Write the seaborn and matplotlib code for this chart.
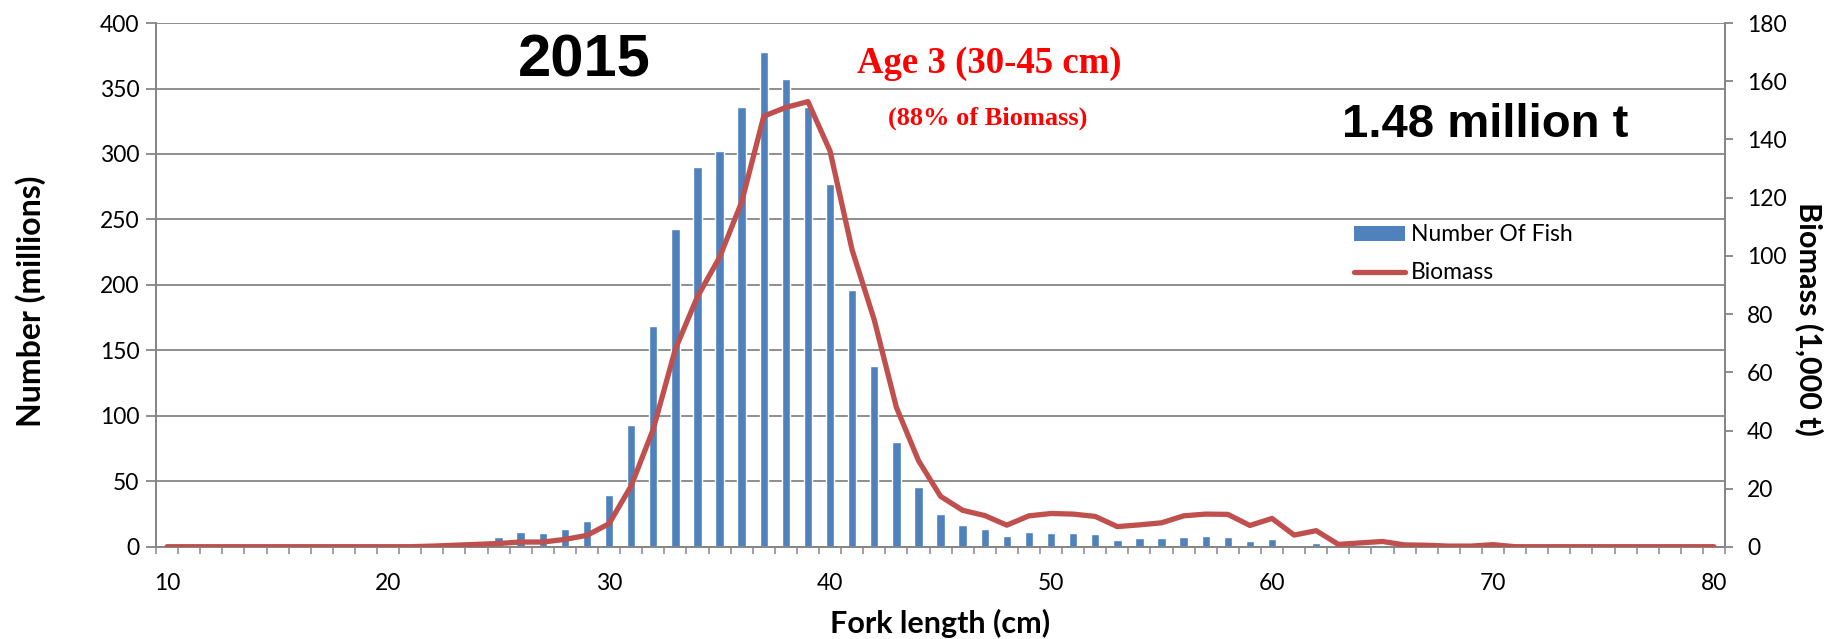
import matplotlib

matplotlib.use("Agg")
import matplotlib.pyplot as plt
import numpy as np
import pandas as pd
import seaborn as sns
from matplotlib.lines import Line2D
from matplotlib.patches import Patch
from matplotlib.ticker import MultipleLocator

# Fork length classes (cm)
fork_length = list(range(10, 81))

# Number of fish (millions) per 1 cm class
number_of_fish = (
    [0] * 13
    + [0.5, 3.5, 8, 11.5, 11, 13.5, 20, 39.5]
    + [93, 169, 243, 290, 302.5, 336, 378, 357, 336, 277]
    + [196, 138, 80, 46, 25, 17, 13.5, 8.5, 11.2, 11]
    + [10.7, 9.6, 5.5, 6.5, 6.5, 7.8, 8.3, 7.8, 4.5, 5.8]
    + [1.5, 2.8]
    + [0] * 18
)

# Biomass (1,000 t) per 1 cm class
biomass = (
    [0.1] * 12
    + [0.3, 0.6, 0.9, 1.2, 1.7, 1.7, 2.6, 4.0]
    + [8, 21, 40.5, 68, 86, 99.5, 118.5, 148, 151, 153]
    + [136, 102, 78, 48, 29.7, 17.4, 12.6, 10.8, 7.5, 10.7]
    + [11.5, 11.3, 10.5, 7.0, 7.6, 8.3, 10.7, 11.3, 11.2, 7.4]
    + [9.8, 4.1, 5.6, 0.9, 1.4, 1.9, 0.7, 0.6, 0.3, 0.3]
    + [0.8]
    + [0.1] * 10
)

bar_color = "#4F81BD"
line_color = "#C0504D"
axis_gray = "#868686"

sns.set_theme(style="white")
plt.rcParams["font.family"] = ["Lato", "DejaVu Sans"]
plt.rcParams["text.color"] = "black"
plt.rcParams["axes.labelcolor"] = "black"
plt.rcParams["xtick.color"] = "black"
plt.rcParams["ytick.color"] = "black"

dataframe = pd.DataFrame(
    {"length": fork_length, "number": number_of_fish, "biomass": biomass}
)

figure = plt.figure(figsize=(18.32, 6.39), dpi=100)
axis = figure.add_axes([0.0852, 0.144, 0.8564, 0.820])

sns.barplot(
    data=dataframe,
    x="length",
    y="number",
    native_scale=True,
    width=0.38,
    color=bar_color,
    saturation=1,
    ax=axis,
    zorder=2,
)
axis.set_xlim(9.5, 80.5)
axis.set_ylim(0, 400)
axis.yaxis.set_major_locator(MultipleLocator(50))
axis.set_xticks(range(10, 81, 10))
axis.set_xticks(np.arange(9.5, 81, 1), minor=True)
axis.grid(axis="y", color=axis_gray, linewidth=1.3, zorder=0)
axis.set_axisbelow(True)

axis_right = axis.twinx()
sns.lineplot(
    data=dataframe,
    x="length",
    y="biomass",
    color=line_color,
    linewidth=3.8,
    ax=axis_right,
    zorder=3,
)
axis_right.set_ylim(0, 180)
axis_right.yaxis.set_major_locator(MultipleLocator(20))
axis_right.set_xlim(9.5, 80.5)

for current_axis in (axis, axis_right):
    for side, spine in current_axis.spines.items():
        spine.set_color(axis_gray)
        spine.set_linewidth(1.3)
    current_axis.spines["top"].set_visible(False)

axis.tick_params(
    axis="y", which="major", direction="out", length=7, width=1.3,
    color=axis_gray, labelcolor="black", pad=5, labelsize=16.5, left=True,
)
axis.tick_params(axis="x", which="major", length=0, pad=19, labelsize=16.5,
                 labelcolor="black")
axis.tick_params(
    axis="x", which="minor", direction="out", length=5, width=1.1,
    color=axis_gray, bottom=True,
)
axis_right.tick_params(
    axis="y", direction="out", length=6, width=1.3, color=axis_gray,
    labelcolor="black", pad=10, labelsize=16.5, right=True,
)

axis.set_xlabel("Fork length (cm)", fontsize=22, fontweight="bold", va="center")
axis.xaxis.set_label_coords(0.5, -0.146)
axis.set_ylabel("Number (millions)", fontsize=23, fontweight="bold", va="center")
axis.yaxis.set_label_coords(-0.080, 0.469)
axis_right.set_ylabel(
    "Biomass (1,000 t)", fontsize=22, fontweight="bold", rotation=270,
    va="center",
)
axis_right.yaxis.set_label_coords(1.054, 0.435)

legend_handles = [
    Patch(facecolor=bar_color, edgecolor="none", label="Number Of Fish"),
    Line2D([0], [0], color=line_color, linewidth=3.8, label="Biomass"),
]
axis_right.legend(
    handles=legend_handles,
    loc="upper left",
    bbox_to_anchor=(0.733, 0.667),
    bbox_transform=figure.transFigure,
    frameon=False,
    fontsize=16.5,
    handlelength=2.2,
    handleheight=0.61,
    handletextpad=0.26,
    labelspacing=0.75,
    borderpad=0,
)

figure.text(0.319, 0.905, "2015", fontsize=43, fontweight="bold",
            family="Liberation Sans", ha="center", va="center")
figure.text(0.540, 0.900, "Age 3 (30-45 cm)", fontsize=26.5, fontweight="bold",
            family="Liberation Serif", color="red", ha="center", va="center")
figure.text(0.539, 0.815, "(88% of Biomass)", fontsize=19, fontweight="bold",
            family="Liberation Serif", color="red", ha="center", va="center")
figure.text(0.8106, 0.804, "1.48 million t", fontsize=34, fontweight="bold",
            family="Liberation Sans", ha="center", va="center")

figure.savefig("out.png", dpi=100)
plt.close(figure)
